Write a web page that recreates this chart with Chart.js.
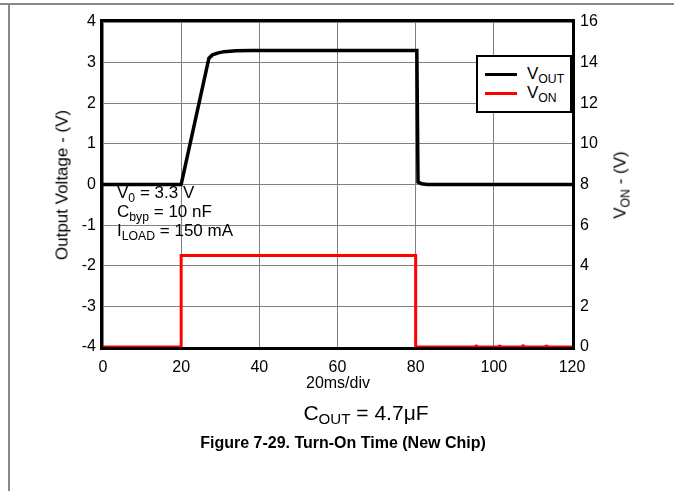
<!DOCTYPE html>
<html>
<head>
<meta charset="utf-8">
<script src="https://cdn.jsdelivr.net/npm/chart.js@4"></script>
<style>
  html, body { margin: 0; padding: 0; background: #fff; }
  body { width: 674px; height: 491px; position: relative; overflow: hidden; font-family: "Liberation Sans", Arial, sans-serif; color: #000; }
  #frameTop { position: absolute; left: 0; top: 3px; width: 674px; height: 2px; background: #888; }
  #frameLeft { position: absolute; left: 8px; top: 3px; width: 2px; height: 488px; background: #888; }
  #signalChart { position: absolute; left: 0; top: 0; }
  .txt { position: absolute; white-space: nowrap; line-height: 1; }
  .center { transform: translate(-50%, -50%); }
  .rot { transform: translate(-50%, -50%) rotate(-90deg); }
  sub { font-size: 72%; vertical-align: -0.3em; line-height: 0; }
  #legend { position: absolute; left: 476px; top: 55px; width: 96px; height: 58px; box-sizing: border-box; border: 2.5px solid #000; background: #fff; }
  .legRow { position: absolute; left: 7px; height: 18px; }
  .legLine { position: absolute; left: 0; top: 8px; width: 32px; height: 3px; }
  .legText { position: absolute; left: 42px; top: 0; font-size: 17px; line-height: 1; white-space: nowrap; }
</style>
</head>
<body>
<div id="frameTop"></div>
<div id="frameLeft"></div>
<canvas id="signalChart" width="674" height="491"></canvas>

<div class="txt rot" style="left:62px; top:185px; font-size:17px;">Output Voltage - (V)</div>
<div class="txt rot" style="left:620px; top:185px; font-size:17px;">V<sub>ON</sub> - (V)</div>
<div class="txt center" style="left:338px; top:383px; font-size:16px;">20ms/div</div>
<div class="txt center" style="left:366px; top:412px; font-size:21px;">C<sub>OUT</sub> = 4.7μF</div>
<div class="txt center" style="left:343px; top:443px; font-size:16px; font-weight:bold;">Figure 7-29. Turn-On Time (New Chip)</div>
<div id="notes"></div>
<div id="legend"></div>

<script>
// output voltage (left axis, V)
const voutTime = [0, 20, 27.1, 28, 29.5, 31, 34, 38, 80.3, 80.6, 81.5, 83, 120]
const voutValues = [0, 0, 3.11, 3.19, 3.24, 3.27, 3.29, 3.3, 3.3, 0.06, 0.02, 0, 0]

// enable voltage (right axis, V)
const vonTime = [0, 20, 20, 80, 80, 95, 95.5, 96, 101, 101.5, 102, 107, 107.5, 108, 113, 113.5, 114, 120]
const vonValues = [0, 0, 4.5, 4.5, 0, 0, 0.05, 0, 0, 0.04, 0, 0, 0.06, 0, 0, 0.04, 0, 0]

const xTicks = [0, 20, 40, 60, 80, 100, 120]
const seriesLabels = ['V<sub>OUT</sub>', 'V<sub>ON</sub>']
const seriesColors = ['#000000', '#ff0000']
const noteLines = ['V<sub>0</sub> = 3.3 V', 'C<sub>byp</sub> = 10 nF', 'I<sub>LOAD</sub> = 150 mA']

const toPoints = (xs, ys) => xs.map((x, i) => ({ x: x, y: ys[i] }))

// annotation text
const notes = document.getElementById("notes")
noteLines.forEach((line, i) => {
    const d = document.createElement("div")
    d.className = "txt"
    d.style.left = "117px"
    d.style.top = (184 + i * 19) + "px"
    d.style.fontSize = "17px"
    d.innerHTML = line
    notes.appendChild(d)
})

// legend
const legend = document.getElementById("legend")
seriesLabels.forEach((label, i) => {
    const row = document.createElement("div")
    row.className = "legRow"
    row.style.top = (8 + i * 19) + "px"
    row.innerHTML = `<div class="legLine" style="background:${seriesColors[i]}"></div><div class="legText">${label}</div>`
    legend.appendChild(row)
})

const plotBox = {
    id: 'plotBox',
    afterDatasetsDraw(chart) {
        const { ctx, chartArea: a } = chart
        ctx.save()
        ctx.strokeStyle = '#000'
        ctx.lineWidth = 3
        ctx.strokeRect(a.left - 1.5, a.top - 1.5, a.right - a.left + 3, a.bottom - a.top + 3)
        ctx.restore()
    }
}

const tickFont = { family: '"Liberation Sans", Arial, sans-serif', size: 16 }
const gridStyle = { color: '#808080', lineWidth: 1, drawTicks: false }

const ctx = document.getElementById("signalChart").getContext("2d")
const signalChart = new Chart(ctx, {
    type: "line",
    data: {
        datasets: [{
            label: 'VOUT',
            data: toPoints(voutTime, voutValues),
            borderColor: seriesColors[0],
            borderWidth: 3.5,
            pointRadius: 0,
            tension: 0,
            yAxisID: 'y'
        }, {
            label: 'VON',
            data: toPoints(vonTime, vonValues),
            borderColor: seriesColors[1],
            borderWidth: 3,
            pointRadius: 0,
            tension: 0,
            yAxisID: 'y2'
        }]
    },
    options: {
        responsive: false,
        animation: false,
        devicePixelRatio: 1,
        layout: { padding: { top: 22, left: 0, right: 0, bottom: 0 } },
        plugins: { legend: { display: false }, tooltip: { enabled: false } },
        scales: {
            x: {
                type: 'linear',
                min: 0, max: 120,
                afterBuildTicks: (s) => { s.ticks = xTicks.map(v => ({ value: v })) },
                afterFit: (s) => { s.height = 144 },
                ticks: { font: tickFont, color: '#000', padding: 11, maxRotation: 0 },
                grid: gridStyle,
                border: { display: false }
            },
            y: {
                position: 'left',
                min: -4, max: 4,
                afterFit: (s) => { s.width = 103 },
                ticks: { stepSize: 1, font: tickFont, color: '#000', padding: 7 },
                grid: gridStyle,
                border: { display: false }
            },
            y2: {
                position: 'right',
                min: 0, max: 16,
                afterFit: (s) => { s.width = 102 },
                ticks: { stepSize: 2, font: tickFont, color: '#000', padding: 8 },
                grid: { drawOnChartArea: false, drawTicks: false },
                border: { display: false }
            }
        }
    },
    plugins: [plotBox]
})
</script>
</body>
</html>
